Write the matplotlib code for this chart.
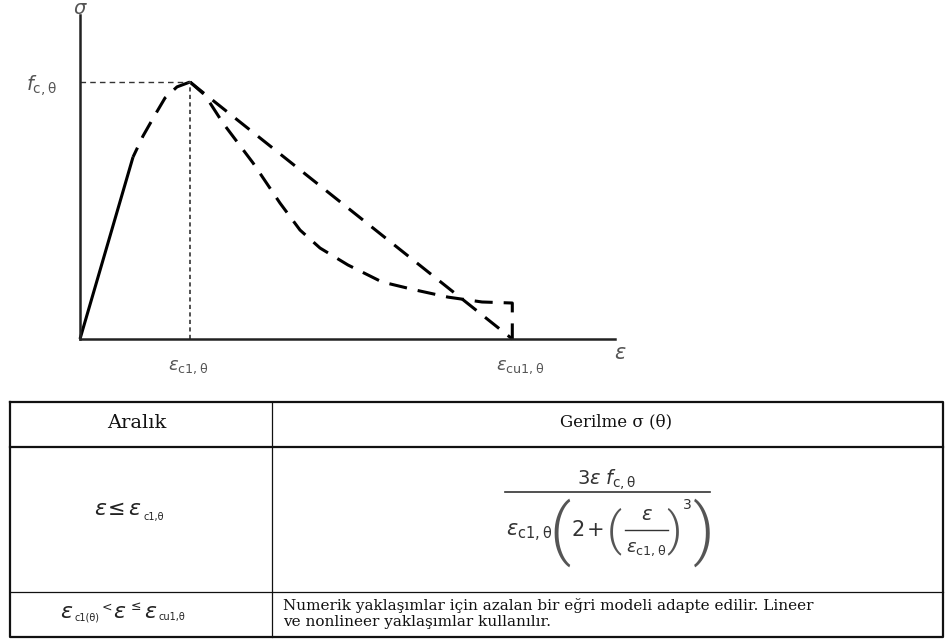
import matplotlib
matplotlib.use("Agg")
import matplotlib.pyplot as plt

plt.rcParams["mathtext.fontset"] = "dejavusans"
plt.rcParams["font.family"] = ["DejaVu Sans"]

W, H, DPI = 948, 643, 100

# Normalised strain (eps / eps_c1) and stress (sigma / f_c)
eps_c1 = 1.0
eps_cu1 = 3.93
f_c = 1.0

rise_solid_eps = [0.0, 0.482]
rise_solid_sig = [0.0, 0.708]
rise_dash_eps = [1.0, 0.882, 0.773, 0.682, 0.573, 0.482]
rise_dash_sig = [1.0, 0.981, 0.938, 0.872, 0.790, 0.708]

linear_eps = [1.0, 1.136, 3.93]
linear_sig = [1.0, 0.953, 0.0]

nonlin_eps = [1.0, 1.136, 1.300, 1.573, 1.818, 2.000, 2.182, 2.436,
              2.745, 3.045, 3.345, 3.655, 3.93, 3.93]
nonlin_sig = [1.0, 0.949, 0.840, 0.685, 0.529, 0.424, 0.354, 0.288,
              0.222, 0.191, 0.163, 0.144, 0.140, 0.0]

# Table contents
headers = ["Aralık", "Gerilme σ (θ)"]
descending_note = [
    "Numerik yaklaşımlar için azalan bir eğri modeli adapte edilir. Lineer",
    "ve nonlineer yaklaşımlar kullanılır.",
]

fig = plt.figure(figsize=(W / DPI, H / DPI), dpi=DPI)


def fx(px):
    return px / W


def fy(py):
    return 1 - py / H


# ---- stress-strain diagram ----
ax = fig.add_axes([fx(80), fy(339), fx(615) - fx(80), fy(15) - fy(339)])
x_max = 535 / 110
y_max = 324 / 257
ax.set_xlim(0, x_max)
ax.set_ylim(0, y_max)
ax.patch.set_alpha(0)
for side in ("top", "right"):
    ax.spines[side].set_visible(False)
for side in ("left", "bottom"):
    ax.spines[side].set_linewidth(1.8)
    ax.spines[side].set_color("#222222")
ax.set_xticks([])
ax.set_yticks([])

curve_kw = dict(color="black", lw=2.2, clip_on=False, solid_capstyle="butt",
                dash_capstyle="butt")
ax.plot(rise_solid_eps, rise_solid_sig, **curve_kw)
ax.plot(rise_dash_eps, rise_dash_sig, dashes=(5.9, 3.6), **curve_kw)
ax.plot(linear_eps, linear_sig, dashes=(5.9, 3.6), **curve_kw)
ax.plot(nonlin_eps, nonlin_sig, dashes=(5.9, 3.6), **curve_kw)

# guide lines to the peak
ax.plot([0, eps_c1], [f_c, f_c], color="#333333", lw=1.0, dashes=(4, 3))
ax.plot([eps_c1, eps_c1], [0, f_c], color="#333333", lw=1.2, dashes=(2.5, 2))

lab = dict(textcoords="offset pixels", color="#555555", annotation_clip=False)
ax.annotate("σ", xy=(0, y_max), xytext=(0, 1), ha="center", va="baseline",
            fontsize=14, style="italic", **lab)
ax.annotate(r"$f_{\mathrm{c,\theta}}$", xy=(0, f_c), xytext=(-23, -4),
            ha="right", va="center", fontsize=14, **lab)
ax.annotate(r"$\varepsilon_{\mathrm{c1,\theta}}$", xy=(eps_c1, 0),
            xytext=(-2, -28), ha="center", va="center", fontsize=13, **lab)
ax.annotate(r"$\varepsilon_{\mathrm{cu1,\theta}}$", xy=(eps_cu1, 0),
            xytext=(8, -28), ha="center", va="center", fontsize=13, **lab)
ax.annotate("ε", xy=(x_max, 0), xytext=(5, -14), ha="center", va="center",
            fontsize=15, style="italic", **lab)

# ---- table ----
tab = fig.add_axes([0, 0, 1, 1])
tab.set_xlim(0, W)
tab.set_ylim(H, 0)
tab.axis("off")

edge = "#111111"
ink = "#222222"
formula = "#333333"
tab.plot([10, 943, 943, 10, 10], [402, 402, 637, 637, 402], color=edge, lw=1.6)
tab.plot([10, 943], [447, 447], color=edge, lw=1.6)
tab.plot([10, 943], [592, 592], color=edge, lw=0.9)
tab.plot([272, 272], [402, 637], color=edge, lw=0.9)

serif = ["DejaVu Serif"]
tab.text(137, 423, headers[0], ha="center", va="center", family=serif,
         fontsize=14, color=edge)
tab.text(616, 422, headers[1], ha="center", va="center", family=serif,
         fontsize=12, color=edge)


def put(x, y, s, size, **kw):
    kw.setdefault("ha", "center")
    kw.setdefault("va", "center")
    kw.setdefault("color", ink)
    tab.text(x, y, s, fontsize=size, **kw)


# first range: eps <= eps_c1
put(100, 509, "ε", 16, style="italic")
put(117, 509, "≤", 15)
put(134, 509, "ε", 16, style="italic")
put(144, 517, "c1,θ", 7, ha="left")

# second range: eps_c1 < eps <= eps_cu1
put(66, 612, "ε", 16, style="italic")
put(75, 617, "c1(θ)", 7, ha="left")
put(107, 607, "<", 9)
put(119, 612, "ε", 16, style="italic")
put(136, 607, "≤", 9)
put(150, 612, "ε", 16, style="italic")
put(159, 617, "cu1,θ", 7, ha="left")

# stress expression for the ascending branch
paren = dict(family=["Roboto"], weight=300, color="#555555")
put(607, 480, r"$3\varepsilon\;f_{\mathrm{c,\theta}}$", 14, color=formula)
tab.plot([505, 710], [492, 492], color=formula, lw=1.2)
put(529, 533, r"$\varepsilon_{\mathrm{c1,\theta}}$", 15, color=formula)
put(560, 533, "(", 48, **paren)
put(578, 530, "2", 15, color=formula)
put(596, 530, "+", 15, color=formula)
put(614, 531, "(", 34, **paren)
tab.plot([625, 668], [530, 530], color=formula, lw=1.0)
put(646, 515, "ε", 14, style="italic", color=formula)
put(646, 549, r"$\varepsilon_{\mathrm{c1,\theta}}$", 13, color=formula)
put(674, 531, ")", 34, **paren)
put(687, 505, "3", 10, color=formula)
put(704, 533, ")", 48, **paren)

for i, line in enumerate(descending_note):
    tab.text(283, 610 + 16 * i, line, ha="left", va="baseline", family=serif,
             fontsize=11, color=edge)

fig.savefig("out.png", dpi=DPI)
